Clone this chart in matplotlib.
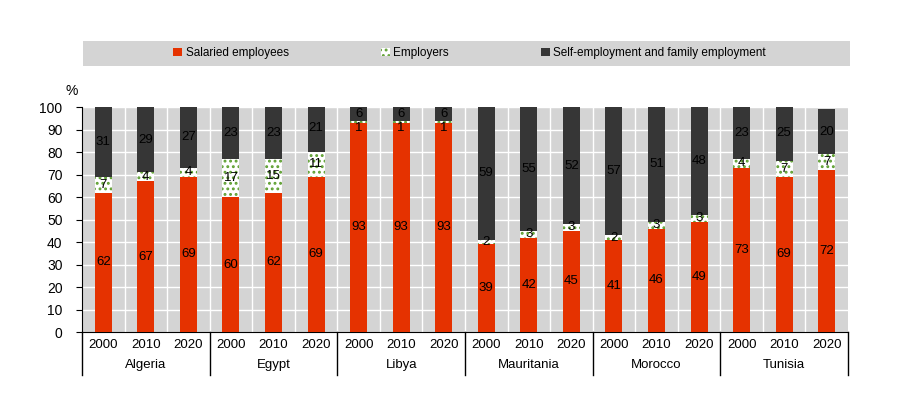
import numpy as np
import matplotlib.pyplot as plt
from matplotlib.patches import Rectangle

plt.rcParams['font.family'] = ['Liberation Sans', 'DejaVu Sans']
plt.rcParams['hatch.linewidth'] = 1.3

countries = ['Algeria', 'Egypt', 'Libya', 'Mauritania', 'Morocco', 'Tunisia']
years = ['2000', '2010', '2020']
salaried = [62, 67, 69, 60, 62, 69, 93, 93, 93, 39, 42, 45, 41, 46, 49, 73, 69, 72]
employers = [7, 4, 4, 17, 15, 11, 1, 1, 1, 2, 3, 3, 2, 3, 3, 4, 7, 7]
selfemp = [31, 29, 27, 23, 23, 21, 6, 6, 6, 59, 55, 52, 57, 51, 48, 23, 25, 20]

red = '#e53200'
dark = '#363636'
green = '#5fa032'

fig = plt.figure(figsize=(9, 4.15), dpi=100)
ax = fig.add_axes([0.0911, 0.2, 0.8511, 0.542])
ax.set_facecolor('#d4d4d4')

x = np.arange(len(salaried))
w = 0.4
s = np.array(salaried)
e = np.array(employers)
o = np.array(selfemp)
b1 = ax.bar(x, s, w, color=red, zorder=3, label='Salaried employees')
b2 = ax.bar(x, e, w, bottom=s, facecolor='white', edgecolor=green, hatch='...',
            linewidth=0, zorder=3, label='Employers')
b3 = ax.bar(x, o, w, bottom=s + e, color=dark, zorder=3,
            label='Self-employment and family employment')

for i in range(len(x)):
    ax.text(x[i], s[i] / 2, str(s[i]), ha='center', va='center', fontsize=9.5, zorder=4)
    ye = s[i] + e[i] / 2
    if e[i] == 1:
        ye -= 2.8
    ax.text(x[i], ye, str(e[i]), ha='center', va='center', fontsize=9.5, zorder=4)
    ax.text(x[i], s[i] + e[i] + o[i] / 2, str(o[i]), ha='center', va='center', fontsize=9.5, zorder=4)

ax.set_xlim(-0.5, len(x) - 0.5)
ax.set_ylim(0, 100)
ax.set_yticks(range(0, 101, 10))
ax.set_xticks(x)
ax.set_xticklabels(years * len(countries), fontsize=9.5)
ax.tick_params(axis='x', length=0, pad=5)
ax.tick_params(axis='y', direction='out', length=4, labelsize=10, pad=10)

# white grid
for yv in range(10, 101, 10):
    ax.axhline(yv, color='white', lw=1, zorder=1)
for xv in np.arange(0.5, len(x) - 1, 1):
    ax.axvline(xv, color='white', lw=1, zorder=1)

for sp in ['top', 'right']:
    ax.spines[sp].set_visible(False)
ax.spines['left'].set_color('black')
ax.spines['bottom'].set_color('black')

# group separators and country names
for g in range(len(countries) + 1):
    ax.plot([g * 3 - 0.5, g * 3 - 0.5], [0, -19], color='black', lw=1,
            clip_on=False, zorder=5)
for g, c in enumerate(countries):
    ax.text(g * 3 + 1, -14.8, c, ha='center', va='center', fontsize=9.5)

ax.text(-0.75, 104, '%', ha='center', va='bottom', fontsize=10)

# legend band
fig.patches.append(Rectangle((0.092, 0.842), 0.853, 0.059, transform=fig.transFigure,
                             facecolor='#d4d4d4', edgecolor='none', zorder=0))
fig.legend(handles=[b1, b2, b3], loc='center', bbox_to_anchor=(0.522, 0.872),
           ncol=3, frameon=False, fontsize=8.5, handlelength=0.75, handleheight=0.75,
           handletextpad=0.3, columnspacing=7.8)

fig.savefig('out.png', dpi=100, facecolor='white')
